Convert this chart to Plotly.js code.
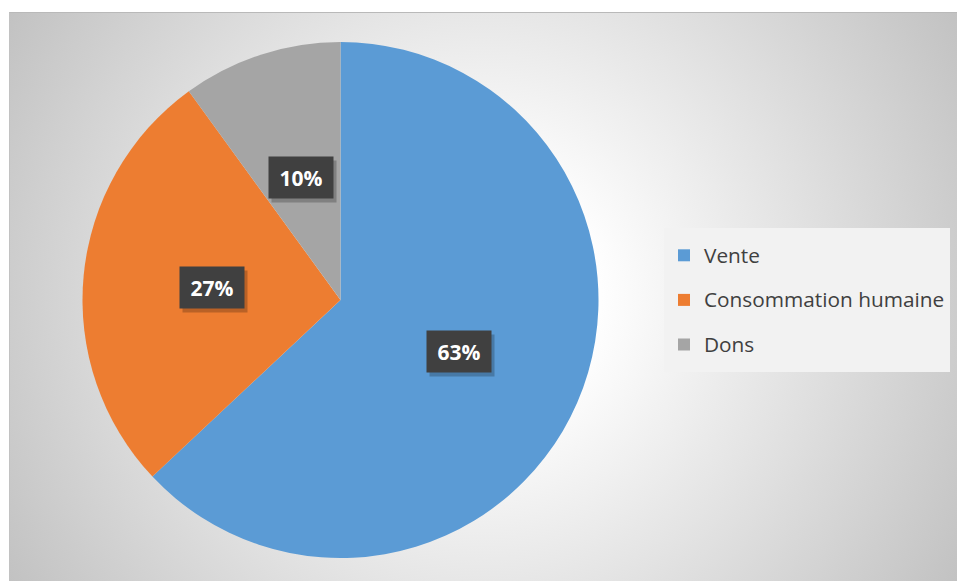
<!DOCTYPE html>
<html>
<head>
<meta charset="utf-8">
<script src="https://cdn.plot.ly/plotly-3.0.1.min.js"></script>
<style>
  html, body { margin: 0; padding: 0; background: #ffffff; }
  #wrap { position: relative; width: 957px; height: 581px; overflow: hidden; }
  #bg {
    position: absolute; left: 9px; top: 12px; right: 0; bottom: 0;
    border-top: 1px solid #b9b9b9; border-left: 1px solid #c2c2c2;
    background: radial-gradient(circle farthest-corner at 50% 50%, #ffffff 0%, #ffffff 20%, #c2c2c2 100%);
  }
  #chart { position: absolute; left: 0; top: 0; width: 957px; height: 581px; }
</style>
</head>
<body>
<div id="wrap">
  <div id="bg"></div>
  <div id="chart"></div>
</div>
<script>
// ---- data ----
const categories = ["Vente", "Consommation humaine", "Dons"];
const values = [63, 27, 10];
const colors = ["#5B9BD5", "#ED7D31", "#A5A5A5"];

// ---- layout constants ----
const W = 957, H = 581;
const domX = [82.5 / W, 598.5 / W];
const domY = [(H - 558) / H, (H - 42) / H];

const total = values.reduce((a, b) => a + b, 0);
const cxPx = (domX[0] + domX[1]) / 2 * W;
const cyPx = (1 - (domY[0] + domY[1]) / 2) * H;
const rPx = Math.min((domX[1] - domX[0]) * W, (domY[1] - domY[0]) * H) / 2;

const annotations = [];
let cum = 0;
values.forEach((v, i) => {
  const mid = (cum + v / 2) / total * 2 * Math.PI; // clockwise from 12 o'clock
  cum += v;
  const px = cxPx + 0.5 * rPx * Math.sin(mid);
  const py = cyPx - 0.5 * rPx * Math.cos(mid);
  const pct = Math.round(v / total * 100) + "%";
  const base = {
    xref: "paper", yref: "paper", x: px / W, y: 1 - py / H,
    showarrow: false, width: 60, height: 37, borderpad: 2,
    xanchor: "center", yanchor: "middle"
  };
  annotations.push(Object.assign({}, base, {
    text: " ", bgcolor: "rgba(0,0,0,0.22)", xshift: 3, yshift: -4
  }));
  annotations.push(Object.assign({}, base, {
    text: "<b>" + pct + "</b>", bgcolor: "#404040",
    font: { family: "Open Sans, Liberation Sans, sans-serif", size: 21, color: "#ffffff" }
  }));
});

const legendLabels = categories.map(c =>
  '<span style="font-size:20.8px;baseline-shift:5px">' + c + '</span>');

const trace = {
  type: "pie",
  labels: legendLabels,
  values: values,
  marker: { colors: colors, line: { width: 0 } },
  sort: false,
  direction: "clockwise",
  rotation: 0,
  textinfo: "none",
  hoverinfo: "skip",
  domain: { x: domX, y: domY },
  showlegend: true
};

const layout = {
  width: W, height: H,
  margin: { l: 0, r: 0, t: 0, b: 0 },
  paper_bgcolor: "rgba(0,0,0,0)",
  plot_bgcolor: "rgba(0,0,0,0)",
  showlegend: true,
  legend: {
    x: 664 / W, xanchor: "left",
    y: (H - 228) / H, yanchor: "top",
    bgcolor: "#f2f2f2",
    borderwidth: 0,
    font: { family: "Open Sans, Liberation Sans, sans-serif", size: 32, color: "#404040" },
    traceorder: "normal"
  },
  annotations: annotations
};

Plotly.newPlot("chart", [trace], layout, { displayModeBar: false, staticPlot: true });
</script>
</body>
</html>
